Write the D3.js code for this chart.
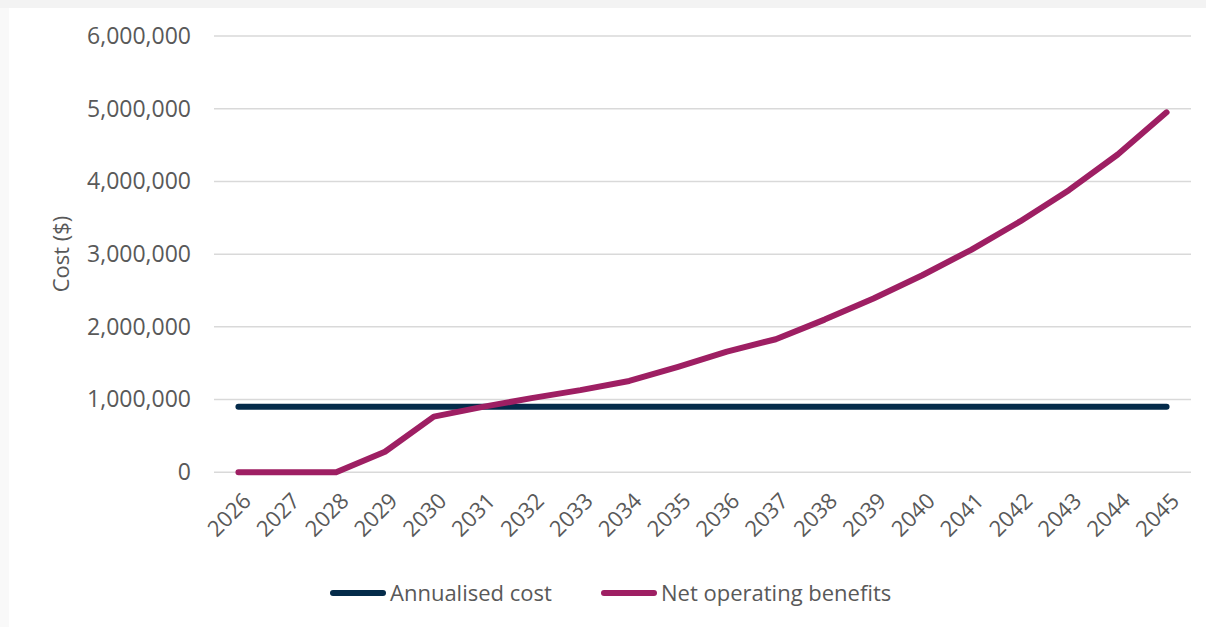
<!DOCTYPE html>
<html>
<head>
<meta charset="utf-8">
<script src="https://cdn.jsdelivr.net/npm/d3@7"></script>
<style>
  html, body { margin: 0; padding: 0; background: #ffffff; }
  svg { display: block; }
  text { font-family: "Open Sans", "Noto Sans", sans-serif; fill: #595959; }
</style>
</head>
<body>
<svg id="chart" width="1206" height="627"></svg>
<script>
// Years on the category axis
const years = ["2026","2027","2028","2029","2030","2031","2032","2033","2034","2035",
               "2036","2037","2038","2039","2040","2041","2042","2043","2044","2045"];

// Annualised cost per year ($)
const annualisedCost = [900000,900000,900000,900000,900000,900000,900000,900000,900000,900000,
                        900000,900000,900000,900000,900000,900000,900000,900000,900000,900000];

// Net operating benefits per year ($)
const netOperatingBenefits = [0,0,0,283000,765000,900000,1020000,1130000,1256000,1450000,
                              1660000,1830000,2100000,2390000,2710000,3060000,3450000,3880000,4370000,4950000];

// Value axis ticks
const yTicks = [0,1000000,2000000,3000000,4000000,5000000,6000000];

const seriesNames = ["Annualised cost", "Net operating benefits"];
const seriesColors = ["#042b4a", "#9e1f63"];

const svg = d3.select("#chart");

// Page frame: pale strips along top and left edges
svg.append("rect").attr("x", 0).attr("y", 0).attr("width", 1206).attr("height", 627).attr("fill", "#ffffff");
svg.append("rect").attr("x", 0).attr("y", 0).attr("width", 9).attr("height", 627).attr("fill", "#f9f9f9");
svg.append("rect").attr("x", 0).attr("y", 0).attr("width", 1206).attr("height", 8).attr("fill", "#f3f3f3");

const plot = { left: 214, right: 1191, top: 36, bottom: 472.3 };

const x = d3.scaleBand().domain(years).range([plot.left, plot.right]);
const xc = d => x(d) + x.bandwidth() / 2;
const y = d3.scaleLinear().domain([0, 6000000]).range([plot.bottom, plot.top]);

// Horizontal gridlines
svg.append("g")
  .selectAll("line")
  .data(yTicks)
  .join("line")
  .attr("x1", plot.left)
  .attr("x2", plot.right)
  .attr("y1", d => y(d))
  .attr("y2", d => y(d))
  .attr("stroke", "#d9d9d9")
  .attr("stroke-width", 1.5);

// Value axis labels
const fmt = d3.format(",");
const yAxis = svg.append("g")
  .attr("transform", `translate(${plot.left - 23},0)`)
  .call(d3.axisLeft(y).tickValues(yTicks).tickFormat(fmt).tickSize(0).tickPadding(0));
yAxis.select(".domain").remove();
yAxis.selectAll("text")
  .attr("font-size", 23)
  .attr("fill", "#595959")
  .attr("font-family", "'Open Sans', sans-serif");

// Value axis title
svg.append("text")
  .attr("transform", `translate(69,254) rotate(-90)`)
  .attr("text-anchor", "middle")
  .attr("font-size", 22)
  .text("Cost ($)");

// Category axis labels, rotated
const xAxis = svg.append("g")
  .attr("transform", `translate(0,${plot.bottom})`)
  .call(d3.axisBottom(x).tickSize(0).tickPadding(0));
xAxis.select(".domain").remove();
xAxis.selectAll("text")
  .attr("font-size", 22)
  .attr("fill", "#595959")
  .attr("font-family", "'Open Sans', sans-serif")
  .attr("text-anchor", "end")
  .attr("dy", "0")
  .attr("transform", "translate(14,30) rotate(-45)");

// Series lines
const seriesData = [annualisedCost, netOperatingBenefits];
const line = d3.line()
  .x((d, i) => xc(years[i]))
  .y(d => y(d));

seriesData.forEach((vals, k) => {
  svg.append("path")
    .datum(vals)
    .attr("d", line)
    .attr("fill", "none")
    .attr("stroke", seriesColors[k])
    .attr("stroke-width", 6)
    .attr("stroke-linecap", "round")
    .attr("stroke-linejoin", "round");
});

// Legend
const legendItems = [{ x: 333, name: seriesNames[0], color: seriesColors[0] },
                     { x: 604, name: seriesNames[1], color: seriesColors[1] }];
const lg = svg.append("g");
legendItems.forEach(it => {
  lg.append("line")
    .attr("x1", it.x).attr("x2", it.x + 50)
    .attr("y1", 593).attr("y2", 593)
    .attr("stroke", it.color)
    .attr("stroke-width", 6)
    .attr("stroke-linecap", "round");
  lg.append("text")
    .attr("x", it.x + 57)
    .attr("y", 601)
    .attr("font-size", 22)
    .text(it.name);
});
</script>
</body>
</html>
